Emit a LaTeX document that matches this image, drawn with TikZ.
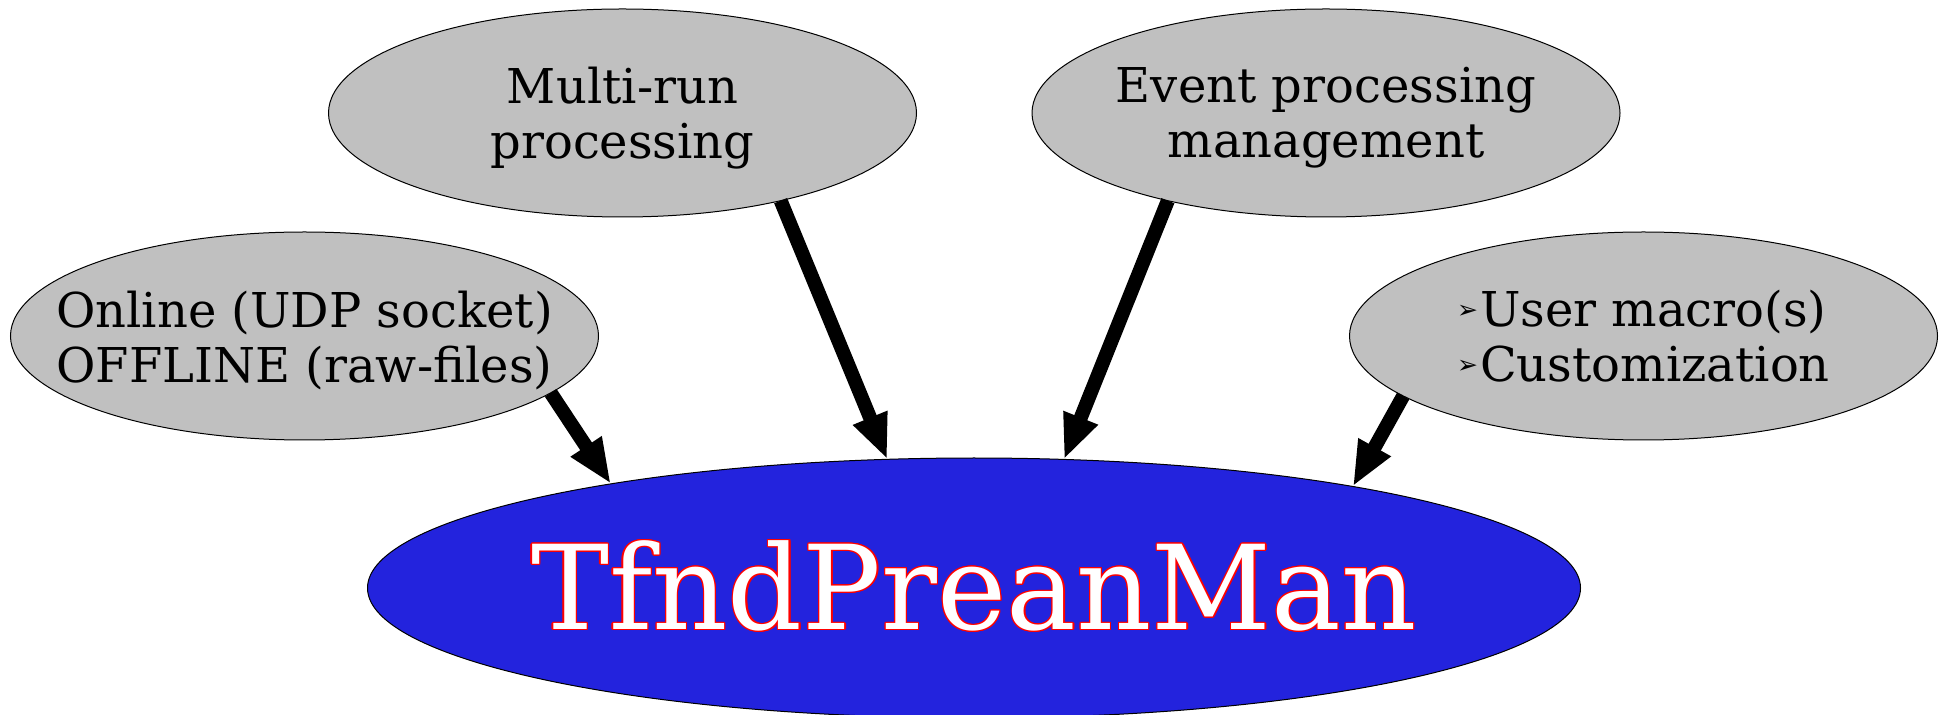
\documentclass[tikz,border=0pt]{standalone}
\usepackage{fontspec}
\setmainfont{DejaVu Serif}
\newfontfamily\symfont{DejaVu Sans}
\usetikzlibrary{shapes.geometric,arrows.meta,calc}
\definecolor{nodegray}{RGB}{192,192,192}
\definecolor{mainblue}{RGB}{35,35,221}
\newcommand\bulmark{{\symfont\fontsize{12.5}{12}\selectfont\raisebox{3.8pt}{➢}}\kern1pt}
\tikzset{
  gnode/.style={ellipse, draw=black, line width=0.5pt, fill=nodegray, inner sep=0pt, outer sep=0pt,
    minimum width=294pt, minimum height=104pt},
  mainnode/.style={ellipse, draw=black, line width=0.5pt, fill=mainblue, inner sep=0pt, outer sep=0pt,
    minimum width=606.5pt, minimum height=130pt},
  gtext/.style={align=center, inner sep=0pt, yshift=-2.5pt, font=\fontsize{24}{27.5}\selectfont},
  maintext/.style={inner sep=0pt, font=\fontsize{58.5}{60}\selectfont},
  bigarrow/.style={line width=7pt, -{Triangle[length=22.5pt,width=17pt]}},
}
\begin{document}
\begin{tikzpicture}[x=0.5pt, y=-0.5pt]
\useasboundingbox (0,0) rectangle (1947,715);
% nodes
\node[gnode] (online) at (304.5,336) {};
\node[gnode] (multi) at (622.5,113) {};
\node[gnode] (event) at (1326,113) {};
\node[gnode] (user) at (1643.5,336) {};
\node[mainnode] (main) at (974,588) {};
% texts
\node[gtext] (onlinet) at (online) {Online (UDP socket)\\OFFLINE (raw-files)};
\node[gtext] (multit) at (multi) {Multi-run\\processing};
\node[gtext] (eventt) at (event) {Event processing\\management};
\node[gtext, align=left, yshift=2.5pt] (usert) at (user) {\bulmark User macro(s)\\\bulmark Customization};
\foreach \a in {0,30,...,330}{
  \node[maintext, text=red] (mainc\a) at ($(main)+(0,-2)+(\a:1.3)$) {TfndPreanMan};
}
\node[maintext, text=white] (maint) at ($(main)+(0,-2)$) {TfndPreanMan};
% arrows
\draw[bigarrow] (online.-13.8) -- (main.164.3);
\draw[bigarrow] (multi.-29.3) -- (main.124.8);
\draw[bigarrow] (event.-151.2) -- (main.55.2);
\draw[bigarrow] (user.-166.2) -- (main.15.7);
\end{tikzpicture}
\end{document}
